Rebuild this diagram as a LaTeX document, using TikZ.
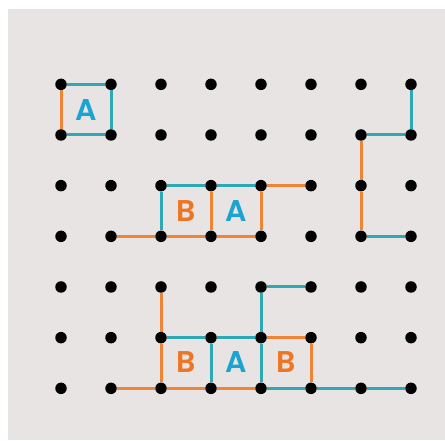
\documentclass[tikz,border=0pt]{standalone}
\usepackage{fontspec}
\setmainfont{Poppins}[BoldFont={Poppins SemiBold}]
\definecolor{bg}{HTML}{E8E4E4}
\definecolor{cy}{HTML}{2FA8B6}
\definecolor{cyl}{HTML}{1BA3D2}
\definecolor{orn}{HTML}{EF8434}
\definecolor{orl}{HTML}{EE7622}
\begin{document}
\begin{tikzpicture}[x=1pt,y=-1pt,
  dot/.style={circle,fill=black,inner sep=0pt,minimum size=11.5pt},
  ce/.style={draw=cy,line width=3pt},
  oe/.style={draw=orn,line width=3pt},
  lab/.style={font=\fontsize{30}{30}\selectfont\bfseries,inner sep=0pt},
  la/.style={lab,text=cyl},
  lb/.style={lab,text=orl}]
\useasboundingbox (0,0) rectangle (445,440);
\fill[bg] (8,9) rectangle (445,440);
\foreach \c in {0,...,7} \foreach \r in {0,...,6}
  \node[dot] (p\c\r) at ({61+50*\c},{84.3+50.67*\r}) {};
% top-left square
\draw[ce] (p00) -- (p10);
\draw[ce] (p10) -- (p11);
\draw[ce] (p01) -- (p11);
\draw[oe] (p00) -- (p01);
\node[la] (a1) at (86,109.6) {A};
% middle
\draw[ce] (p22) -- (p32);
\draw[ce] (p32) -- (p42);
\draw[ce] (p22) -- (p23);
\draw[oe] (p42) -- (p52);
\draw[oe] (p32) -- (p33);
\draw[oe] (p42) -- (p43);
\draw[oe] (p13) -- (p23);
\draw[oe] (p23) -- (p33);
\draw[oe] (p33) -- (p43);
\node[lb] (b1) at (186,211) {B};
\node[la] (a2) at (236,211) {A};
% right
\draw[ce] (p70) -- (p71);
\draw[ce] (p61) -- (p71);
\draw[ce] (p63) -- (p73);
\draw[oe] (p61) -- (p62);
\draw[oe] (p62) -- (p63);
% bottom
\draw[oe] (p24) -- (p25);
\draw[oe] (p25) -- (p26);
\draw[ce] (p44) -- (p54);
\draw[ce] (p44) -- (p45);
\draw[ce] (p25) -- (p35);
\draw[ce] (p35) -- (p45);
\draw[oe] (p45) -- (p55);
\draw[ce] (p35) -- (p36);
\draw[ce] (p45) -- (p46);
\draw[oe] (p55) -- (p56);
\draw[oe] (p16) -- (p26);
\draw[oe] (p26) -- (p36);
\draw[oe] (p36) -- (p46);
\draw[ce] (p46) -- (p56);
\draw[ce] (p56) -- (p66);
\draw[ce] (p66) -- (p76);
\node[lb] (b2) at (186,362) {B};
\node[la] (a3) at (236,362) {A};
\node[lb] (b3) at (286,362) {B};
\end{tikzpicture}
\end{document}
